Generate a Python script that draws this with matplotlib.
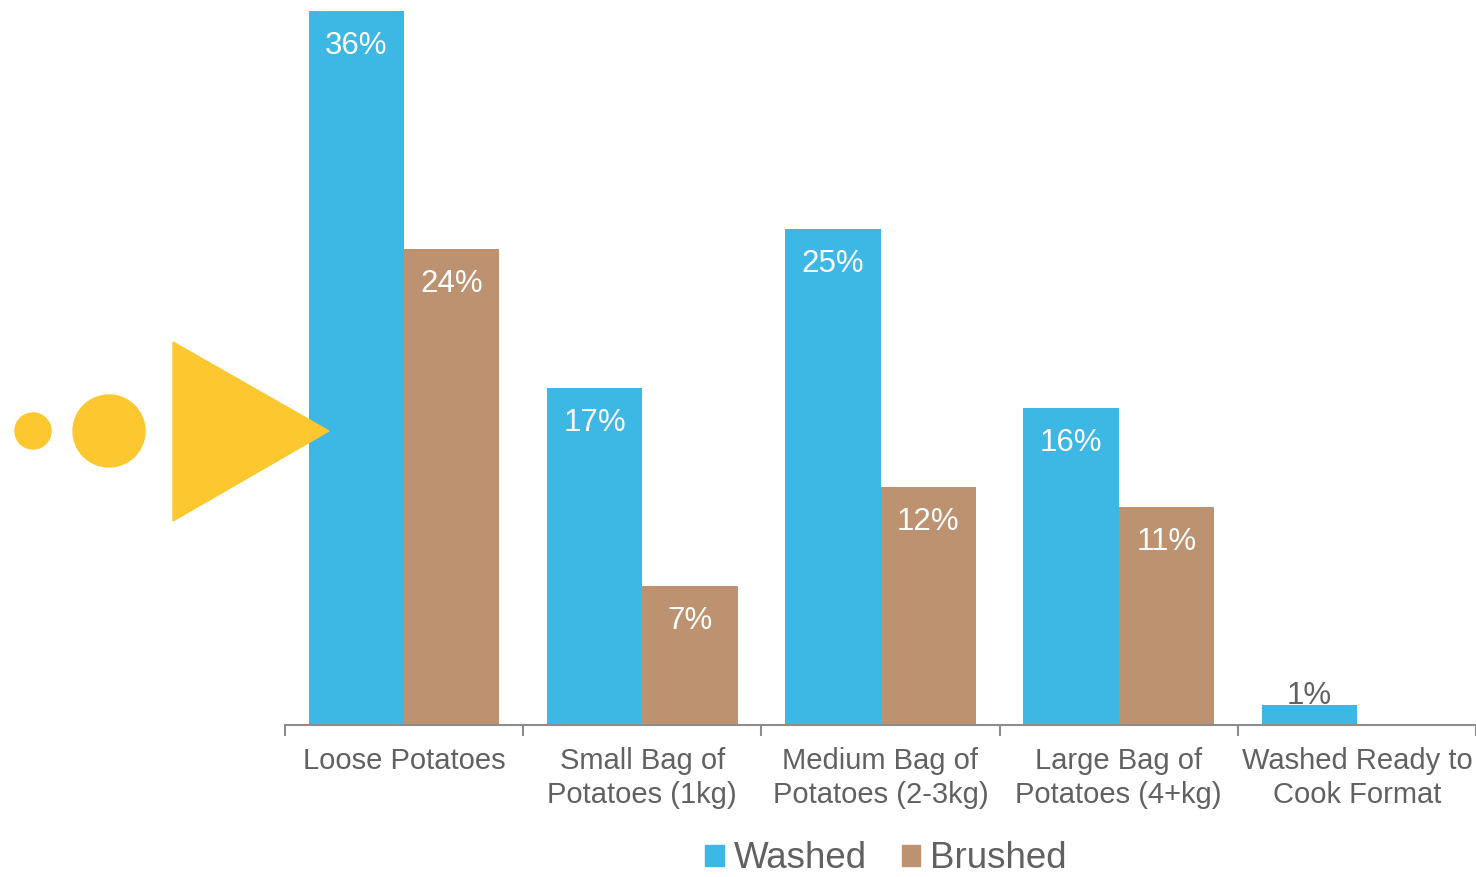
import numpy as np
import matplotlib
matplotlib.use("Agg")
import matplotlib.pyplot as plt
from matplotlib.patches import Patch, Circle, Polygon

plt.rcParams['font.family'] = ['Liberation Sans', 'DejaVu Sans']

categories = ["Loose Potatoes", "Small Bag of\nPotatoes (1kg)", "Medium Bag of\nPotatoes (2-3kg)",
              "Large Bag of\nPotatoes (4+kg)", "Washed Ready to\nCook Format"]
washed = [36, 17, 25, 16, 1]
brushed = [24, 7, 12, 11, None]

blue = "#3DB7E4"
brown = "#BD9270"
yellow = "#FDC72F"
grey = "#616161"

fig = plt.figure(figsize=(14.76, 8.77), dpi=100)
ax = fig.add_axes([285/1476, 152/877, 1191/1476, 725/877])

x = np.arange(len(categories))
w = 0.4
bw = ax.bar(x - w/2, washed, w, color=blue, label="Washed")
br_vals = [v if v is not None else 0 for v in brushed]
bb = ax.bar(x + w/2, br_vals, w, color=brown, label="Brushed")

def add_labels(bars, vals):
    for rect, v in zip(bars, vals):
        if v is None:
            continue
        cx = rect.get_x() + rect.get_width()/2
        if v >= 3:
            ax.annotate(f"{v}%", (cx, v), xytext=(0, -14.5), textcoords="offset points",
                        ha="center", va="top", color="white", fontsize=22.5)
        else:
            ax.annotate(f"{v}%", (cx, v), xytext=(0, -4.5), textcoords="offset points",
                        ha="center", va="bottom", color=grey, fontsize=22.5)

add_labels(bw, washed)
add_labels(bb, brushed)

ax.set_xlim(-0.5, len(categories) - 0.5)
ax.set_ylim(0, 36 * 725 / 714)
ax.set_xticks(x)
ax.set_xticklabels(categories, fontsize=21, color=grey, linespacing=1.25)
ax.set_xticks(np.arange(len(categories) + 1) - 0.5, minor=True)
ax.tick_params(axis="x", which="major", length=0, pad=16)
ax.tick_params(axis="x", which="minor", length=8, width=1.5, color="#8c8c8c", direction="out")
ax.set_yticks([])
for s in ["top", "right", "left"]:
    ax.spines[s].set_visible(False)
ax.spines["bottom"].set_color("#8c8c8c")
ax.spines["bottom"].set_linewidth(1.5)

handles = [Patch(color=blue), Patch(color=brown)]
fig.legend(handles, ["Washed", "Brushed"], loc="center", bbox_to_anchor=(886/1476, 1 - 859/877),
           ncol=2, frameon=False, fontsize=26.5, labelcolor=grey, handlelength=0.5, handleheight=0.5,
           handletextpad=0.27, columnspacing=0.95, borderpad=0)

# yellow arrow decoration
tr = fig.dpi_scale_trans
fig.add_artist(Circle((0.33, 4.46), 0.18, color=yellow, transform=tr, zorder=5))
fig.add_artist(Circle((1.09, 4.46), 0.36, color=yellow, transform=tr, zorder=5))
fig.add_artist(Polygon([(1.73, 5.35), (1.73, 3.56), (3.29, 4.46)], closed=True, color=yellow,
                       transform=tr, zorder=5))

fig.savefig("out.png", dpi=100)
